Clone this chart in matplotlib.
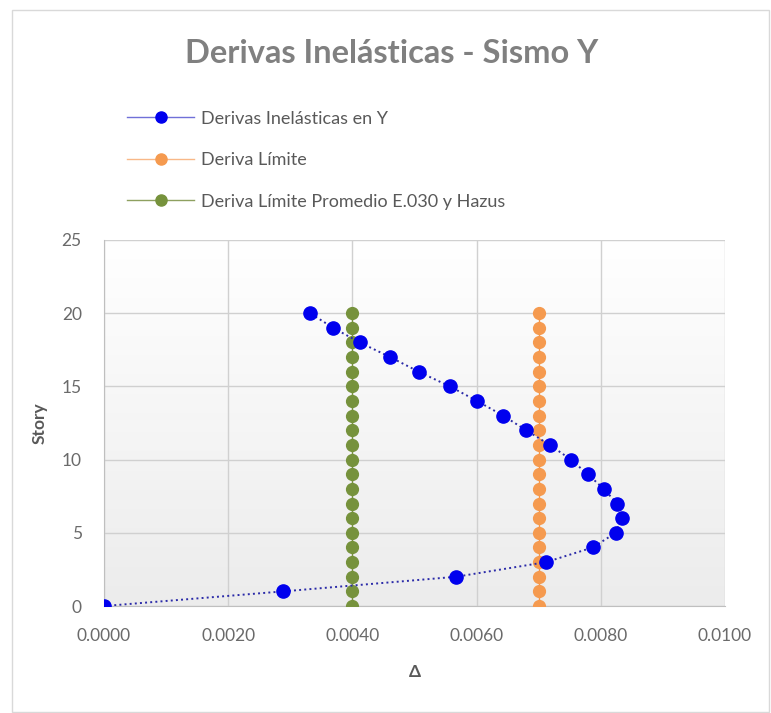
import numpy as np
import matplotlib
matplotlib.use('Agg')
import matplotlib.pyplot as plt
from matplotlib.patches import Rectangle
from matplotlib.lines import Line2D

plt.rcParams['font.family'] = ['Lato', 'DejaVu Sans']

# --------------------------------Data---------------------------------------------------------------------------------
stories = list(range(0, 21))
deriva_y = [0.0, 0.00288, 0.00567, 0.00712, 0.00787, 0.00824, 0.00834, 0.00826, 0.00805,
            0.00779, 0.00752, 0.00718, 0.00680, 0.00643, 0.00601, 0.00557, 0.00507,
            0.00461, 0.00412, 0.00369, 0.00332]
deriva_limite = [0.007] * 21
deriva_promedio = [0.004] * 21

x_ticks = [0.0, 0.002, 0.004, 0.006, 0.008, 0.010]
y_ticks = [0, 5, 10, 15, 20, 25]
labels = ['Derivas Inelásticas en Y', 'Deriva Límite', 'Deriva Límite Promedio E.030 y Hazus']

gray_txt = '#595959'

# --------------------------------Figure-------------------------------------------------------------------------------
fig = plt.figure(figsize=(7.71, 7.13), dpi=100)
fig.patches.append(Rectangle((0.0156, 0.002), 0.982, 0.984, transform=fig.transFigure,
                             fill=False, edgecolor='#d9d9d9', lw=1))

ax = fig.add_axes([0.1349, 0.150, 0.8054, 0.5134])

# gradient background of plot area
grad = np.linspace(0, 1, 256).reshape(-1, 1)
ax.imshow(grad, extent=[0, 1, 0, 1], transform=ax.transAxes, aspect='auto',
          cmap=matplotlib.colors.LinearSegmentedColormap.from_list('g', ['#ececec', '#ffffff']),
          origin='lower', zorder=0)

ax.plot(deriva_y, stories, color='#2a2aa8', ls=':', lw=1.4, marker='o', ms=9.5,
        mfc='#0000ee', mec='#0000ee', zorder=4)
ax.plot(deriva_limite, stories, color='#f79646', lw=1, marker='o', ms=8.5,
        mfc='#f59a4f', mec='#f59a4f', zorder=3)
ax.plot(deriva_promedio, stories, color='#77933c', lw=1, marker='o', ms=8.5,
        mfc='#76923c', mec='#76923c', zorder=3)

ax.set_xlim(0, 0.010)
ax.set_ylim(0, 25)
ax.set_xticks(x_ticks)
ax.set_yticks(y_ticks)
ax.set_xticklabels(['%.4f' % v for v in x_ticks])
ax.grid(True, color='#d0d0d0', lw=1)
ax.set_axisbelow(True)
for s in ['top', 'right']:
    ax.spines[s].set_visible(False)
for s in ['left', 'bottom']:
    ax.spines[s].set_color('#bfbfbf')
ax.tick_params(length=0, labelsize=12.5, colors='#6a6a6a', pad=16)
ax.set_xlabel('Δ', fontsize=12.5, fontweight='bold', color=gray_txt, labelpad=14)
ax.set_ylabel('Story', fontsize=12.5, fontweight='bold', color=gray_txt, labelpad=10)

fig.text(0.508, 0.925, 'Derivas Inelásticas - Sismo Y', ha='center', va='center',
         fontsize=23.5, fontweight='bold', color='#808080')

# legend with lighter line handles
h1 = Line2D([], [], color='#7070d8', lw=1, marker='o', ms=8, mfc='#0000ee', mec='#0000ee')
h2 = Line2D([], [], color='#f8b888', lw=1, marker='o', ms=8, mfc='#f59a4f', mec='#f59a4f')
h3 = Line2D([], [], color='#8ea060', lw=1, marker='o', ms=8, mfc='#76923c', mec='#76923c')
leg = fig.legend([h1, h2, h3], labels,
                 loc='upper left', bbox_to_anchor=(0.165, 0.845), frameon=False,
                 fontsize=13, handlelength=3.7, labelspacing=1.42, handletextpad=0.4,
                 borderaxespad=0, borderpad=0)
for t in leg.get_texts():
    t.set_color(gray_txt)

fig.savefig('out.png', dpi=100)
